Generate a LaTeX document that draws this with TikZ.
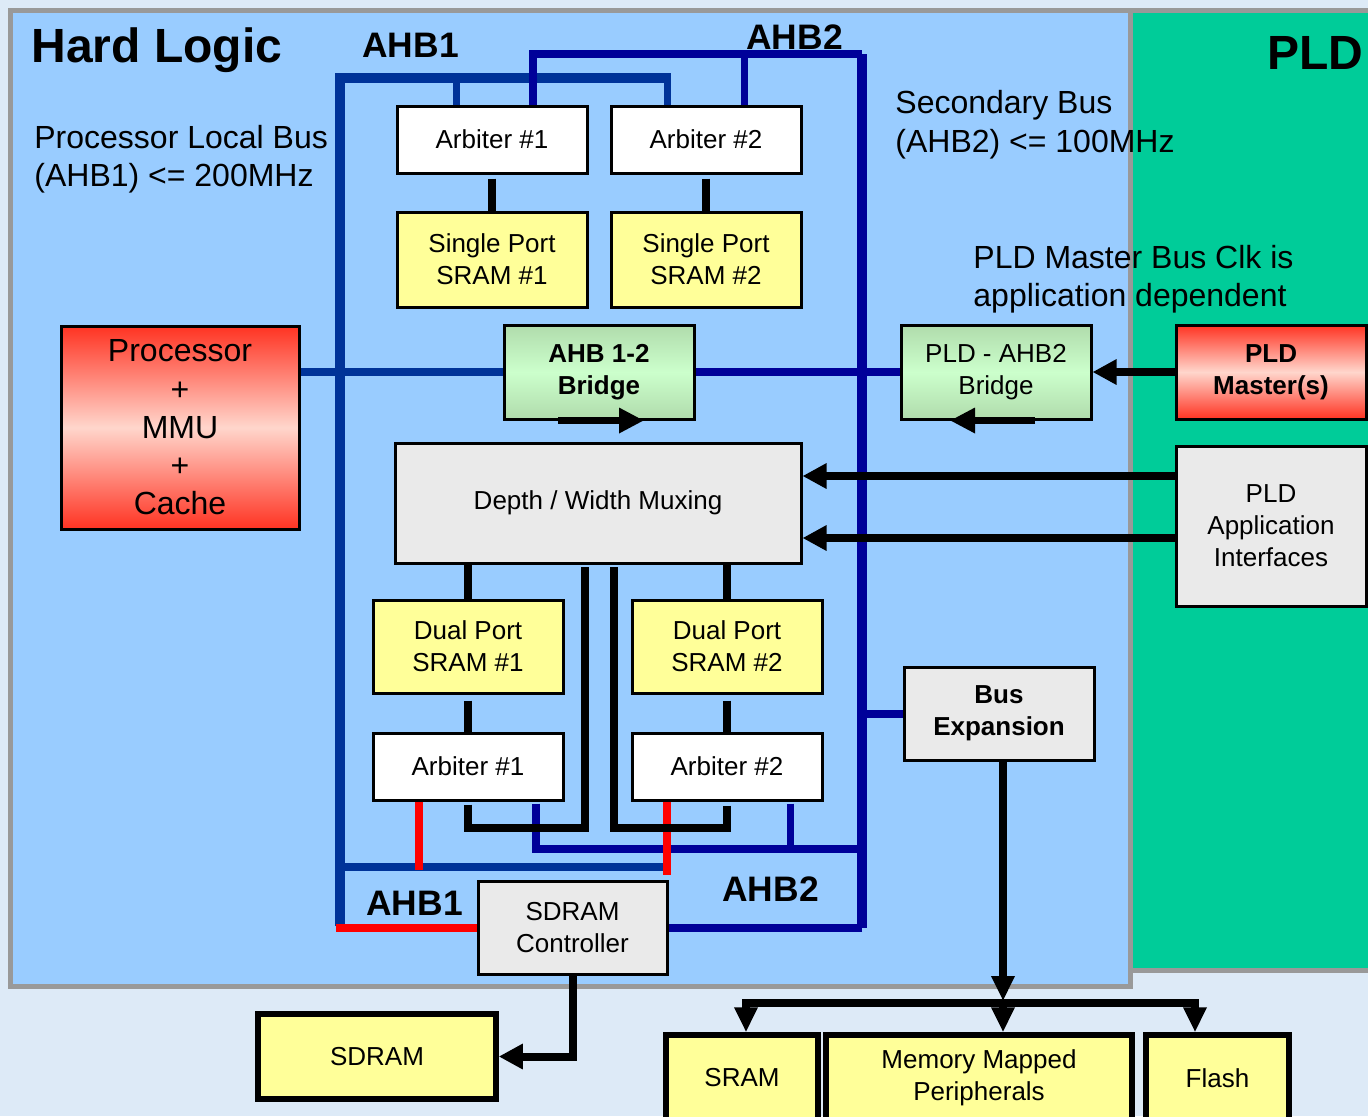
\documentclass[tikz,border=0pt]{standalone}
\usepackage{fontspec}
\setmainfont{Liberation Sans}
\usetikzlibrary{arrows.meta,calc}
\definecolor{bgc}{HTML}{DDEAF7}
\definecolor{hardc}{HTML}{99CCFF}
\definecolor{pldc}{HTML}{00CC99}
\definecolor{framec}{HTML}{999999}
\definecolor{ahbone}{HTML}{003399}
\definecolor{ahbtwo}{HTML}{000099}
\definecolor{yel}{HTML}{FFFF99}
\definecolor{grayb}{HTML}{EAEAEA}
\definecolor{redtop}{HTML}{FF3322}
\definecolor{redmid}{HTML}{FFD6CC}
\definecolor{grnedge}{HTML}{B0DCAC}
\definecolor{grnmid}{HTML}{CCFFCC}
\definecolor{redbus}{HTML}{FF0000}
\begin{document}
\begin{tikzpicture}[x=0.5pt,y=-0.5pt,
  box/.style={draw=black,line width=1.5pt,inner sep=0pt,align=center,
              font=\fontsize{13}{16}\selectfont},
  bbox/.style={box,font=\bfseries\fontsize{13}{16}\selectfont},
  memb/.style={box,line width=2.75pt,fill=yel},
  redgrad/.style={top color=redtop,bottom color=redtop,middle color=redmid},
  grngrad/.style={top color=grnedge,bottom color=grnedge,middle color=grnmid},
  titlef/.style={inner sep=0pt,font=\bfseries\fontsize{24}{28}\selectfont},
  buslbl/.style={inner sep=0pt,font=\bfseries\fontsize{17.7}{20}\selectfont},
  notef/.style={inner sep=0pt,anchor=base west,font=\fontsize{16}{19}\selectfont},
  bone/.style={draw=ahbone,line width=4pt},
  btwo/.style={draw=ahbtwo,line width=4pt},
  dropone/.style={draw=ahbone,line width=3.5pt},
  droptwo/.style={draw=ahbtwo,line width=3.5pt},
  redl/.style={draw=redbus,line width=4pt},
  blk/.style={draw=black,line width=4pt},
  arr/.style={-{Triangle[length=12pt,width=12pt]}},
  barr/.style={draw=black,line width=3.5pt,-{Triangle[length=12.5pt,width=12pt]}},
  marr/.style={-{Triangle[length=12.5pt,width=11pt]}}
]
\useasboundingbox (0,0) rectangle (1368,1116);
\clip (0,0) rectangle (1368,1116);
% background and panels
\fill[bgc] (0,0) rectangle (1368,1116);
\draw[framec,line width=2.5pt,fill=pldc] (1130,10) rectangle (1400,970);
\draw[framec,line width=2.5pt,fill=hardc] (10,10) rectangle (1130,986);

% titles and labels
\node[titlef,anchor=base west] (thl) at (31,62) {Hard Logic};
\node[titlef,anchor=base east] (tpld) at (1364,69) {PLD};
\node[buslbl,anchor=base west] (lab1t) at (362,57) {AHB1};
\node[buslbl,anchor=base west] (lab2t) at (746,49) {AHB2};
\node[buslbl,anchor=base west] (lab1b) at (366,915) {AHB1};
\node[buslbl,anchor=base west] (lab2b) at (722,901) {AHB2};
\node[notef] (plb1) at (34,148) {Processor Local Bus};
\node[notef] (plb2) at (34,186) {(AHB1) <= 200MHz};
\node[notef] (sb1) at (895,113) {Secondary Bus};
\node[notef] (sb2) at (895,152) {(AHB2) <= 100MHz};
\node[notef] (pm1) at (973,268) {PLD Master Bus Clk is};
\node[notef] (pm2) at (973,306) {application dependent};

% boxes
\node[box,fill=white,minimum width=95pt,minimum height=33.5pt] (arbT1) at (492,139.5) {Arbiter \#1};
\node[box,fill=white,minimum width=95pt,minimum height=33.5pt] (arbT2) at (706,139.5) {Arbiter \#2};
\node[box,fill=yel,minimum width=95pt,minimum height=47.5pt] (spT1) at (492,259.5) {Single Port\\SRAM \#1};
\node[box,fill=yel,minimum width=95pt,minimum height=47.5pt] (spT2) at (706,259.5) {Single Port\\SRAM \#2};
\node[box,redgrad,minimum width=119pt,minimum height=101.5pt,
      font=\fontsize{16}{19.1}\selectfont] (proc) at (180,427.5) {Processor\\+\\MMU\\+\\Cache};
\node[bbox,grngrad,minimum width=95pt,minimum height=47pt] (br12) at (599,372) {AHB 1-2\\Bridge};
\node[box,grngrad,minimum width=95pt,minimum height=47pt] (pldbr) at (996,372) {PLD - AHB2\\Bridge};
\node[bbox,redgrad,minimum width=95pt,minimum height=47pt] (pldm) at (1271,372) {PLD\\Master(s)};
\node[box,fill=grayb,minimum width=203pt,minimum height=60pt] (dw) at (598,503) {Depth / Width Muxing};
\node[box,fill=grayb,minimum width=95pt,minimum height=80pt] (app) at (1271,526) {PLD\\Application\\Interfaces};
\node[box,fill=yel,minimum width=95pt,minimum height=46.5pt] (dp1) at (468,646.5) {Dual Port\\SRAM \#1};
\node[box,fill=yel,minimum width=95pt,minimum height=46.5pt] (dp2) at (727,646.5) {Dual Port\\SRAM \#2};
\node[box,fill=white,minimum width=95pt,minimum height=33.5pt] (arbB1) at (468,766.5) {Arbiter \#1};
\node[box,fill=white,minimum width=95pt,minimum height=33.5pt] (arbB2) at (727,766.5) {Arbiter \#2};
\node[bbox,fill=grayb,minimum width=95pt,minimum height=46.5pt] (busx) at (999,713.5) {Bus\\Expansion};
\node[box,fill=grayb,minimum width=94.5pt,minimum height=46.5pt] (sdc) at (572.5,928) {SDRAM\\Controller};
\node[memb,minimum width=119pt,minimum height=42.5pt] (sdram) at (377,1056.5) {SDRAM};
\node[memb,minimum width=76pt,minimum height=43pt] (sram) at (742,1078) {SRAM};
\node[memb,minimum width=153pt,minimum height=43pt] (mmp) at (979,1078) {Memory Mapped\\Peripherals};
\node[memb,minimum width=71.5pt,minimum height=43pt] (flash) at (1217.5,1078) {Flash};

% AHB1 bus
\coordinate (a1tl) at (340,78);
\coordinate (a1tr) at (671,78);
\coordinate (a1bot) at (340,926);
\coordinate (a1d1) at (456,78);
\coordinate (a1d2) at (667,78);
\coordinate (a1ll) at (340,867);
\coordinate (a1lr) at (671,867);
\draw[bone,line width=5pt] (a1bot) -- (a1tl) -- (a1tr);
\draw[dropone] (a1d1) -- (a1d1 |- arbT1.north);
\draw[dropone] (a1d2) -- (a1d2 |- arbT2.north);
\draw[bone] (a1ll) -- (a1lr);
\draw[bone] (br12.west -| proc.east) -- (br12.west);

% AHB2 bus
\coordinate (a2tl) at (533,54);
\coordinate (a2tr) at (862,54);
\coordinate (a2d2) at (744,54);
\coordinate (a2ll) at (536,849);
\coordinate (a2lm) at (790,849);
\draw[btwo,line width=4pt] (a2tl |- arbT1.north) -- (a2tl) -- (a2tr);
\draw[btwo,line width=5pt] (a2tr) -- (a2tr |- sdc.east);
\draw[btwo] (a2tr |- sdc.east) -- (sdc.east);
\draw[droptwo] (a2d2) -- (a2d2 |- arbT2.north);
\draw[btwo] (br12.east) -- (pldbr.west);
\draw[btwo] (busx.west) -- (busx.west -| a2tr);
\draw[btwo] ([yshift=-1pt]a2ll |- arbB1.south) -- (a2ll) -- (a2ll -| a2tr);
\draw[droptwo] ([yshift=-1pt]a2lm |- arbB2.south) -- (a2lm);

% red links
\coordinate (r1) at (419,802);
\coordinate (r1e) at (419,870);
\coordinate (r2) at (667,802);
\coordinate (r2e) at (667,875);
\coordinate (rb) at (336,928);
\draw[redl] (r1) -- (r1e);
\draw[redl] (r2) -- (r2e);
\draw[redl] (rb) -- (sdc.west);

% black links
\draw[blk] ([yshift=-2pt]arbT1.south) -- (spT1.north);
\draw[blk] ([yshift=-2pt]arbT2.south) -- (spT2.north);
\draw[blk] (dp1.north |- dw.south) -- (dp1.north);
\draw[blk] (dp2.north |- dw.south) -- (dp2.north);
\draw[blk] ([yshift=-3pt]dp1.south) -- (arbB1.north);
\draw[blk] ([yshift=-3pt]dp2.south) -- (arbB2.north);
\coordinate (k1) at (585,828);
\coordinate (k2) at (614,828);
\draw[blk] ([yshift=-1.5pt]arbB1.south) |- (k1) -- ([yshift=-1pt]k1 |- dw.south);
\draw[blk] ([yshift=-2pt]arbB2.south) |- (k2) -- ([yshift=-1pt]k2 |- dw.south);

% arrows
\coordinate (ai1) at ($(app.west)+(0,-50)$);
\coordinate (ai2) at ($(app.west)+(0,12)$);
\draw[blk,arr] (ai1) -- (ai1 -| dw.east);
\draw[blk,arr] (ai2) -- (ai2 -| dw.east);
\draw[blk,arr] (pldm.west) -- (pldbr.east);
\draw[barr] ($(br12.south)+(-41,0)$) -- ($(br12.south)+(45,0)$);
\draw[barr] ($(pldbr.south)+(39,0)$) -- ($(pldbr.south)+(-46,0)$);
\draw[blk,arr] (sdc.south) |- (sdram.east);
\coordinate (bj) at (1003,1001);
\coordinate (bl) at (746,1003);
\coordinate (brr) at (1195,1003);
\draw[blk,marr] (busx.south -| bj) -- (bj);
\draw[blk,line cap=rect] (bl) -- (brr);
\draw[blk,marr] (bl) -- (bl |- sram.north);
\draw[blk,marr] (bj) -- (bj |- mmp.north);
\draw[blk,marr] (brr) -- (brr |- flash.north);
\end{tikzpicture}
\end{document}
